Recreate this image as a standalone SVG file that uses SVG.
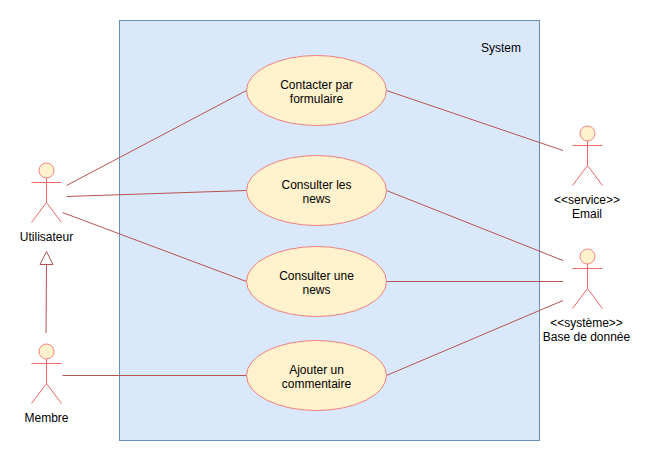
<svg xmlns="http://www.w3.org/2000/svg" width="651" height="461" viewBox="0 0 651 461">
<style>
text{font-family:"Liberation Sans",Arial,sans-serif;font-size:12px;fill:#000;text-anchor:middle}
.uc{fill:#fff2cc;stroke:#f08080;stroke-width:1}
.head{fill:#fff2cc;stroke:#f58080;stroke-width:1}
.body{fill:none;stroke:#ee6666;stroke-width:1}
.conn{fill:none;stroke:#b85450;stroke-width:1}
</style>
<defs>
<g id="stick"><circle class="head" cx="0" cy="0" r="7.500"/><path class="body" d="M0 7.500V32M-15 12H15M0 32L-15 52M0 32L15 52"/></g>
</defs>
<rect id="system" x="119.500" y="20.500" width="420" height="420" fill="#dae8fc" stroke="#6c8ebf"/>
<text x="501" y="52">System</text>
<g id="connectors" class="conn">
<path d="M66.500 185.500L246.500 90.500"/>
<path d="M66.500 196.500L246.500 190.500"/>
<path d="M62.500 212.500L246.500 281.500"/>
<path d="M62.500 375.500H246.500"/>
<path d="M386.500 90.500L563 150.500"/>
<path d="M386.500 190.500L563 260.500"/>
<path d="M386.500 281.500H563"/>
<path d="M386.500 375.500L563 300.500"/>
<path d="M46 333L46.500 265"/>
<path d="M46.500 251.500L40 264.500H53Z" fill="#fff"/>
</g>
<g id="uc1"><ellipse class="uc" cx="316.500" cy="90.500" rx="70" ry="35"/><text x="316.500" y="89">Contacter par</text><text x="316.500" y="103">formulaire</text></g>
<g id="uc2"><ellipse class="uc" cx="316.500" cy="190.500" rx="70" ry="35"/><text x="316.500" y="189">Consulter les</text><text x="316.500" y="203">news</text></g>
<g id="uc3"><ellipse class="uc" cx="316.500" cy="281.500" rx="70" ry="35"/><text x="316.500" y="280">Consulter une</text><text x="316.500" y="294">news</text></g>
<g id="uc4"><ellipse class="uc" cx="316.500" cy="375.500" rx="70" ry="35"/><text x="316.500" y="374">Ajouter un</text><text x="316.500" y="388">commentaire</text></g>
<g id="utilisateur"><use href="#stick" x="46.500" y="170.500"/><text x="46.500" y="241">Utilisateur</text></g>
<g id="membre"><use href="#stick" x="46.500" y="351.500"/><text x="46.500" y="422">Membre</text></g>
<g id="email"><use href="#stick" x="587.500" y="133.500"/><text x="587" y="204">&lt;&lt;service&gt;&gt;</text><text x="587" y="218">Email</text></g>
<g id="bdd"><use href="#stick" x="587.500" y="256.500"/><text x="586.500" y="327">&lt;&lt;système&gt;&gt;</text><text x="586.500" y="341">Base de donnée</text></g>
</svg>
